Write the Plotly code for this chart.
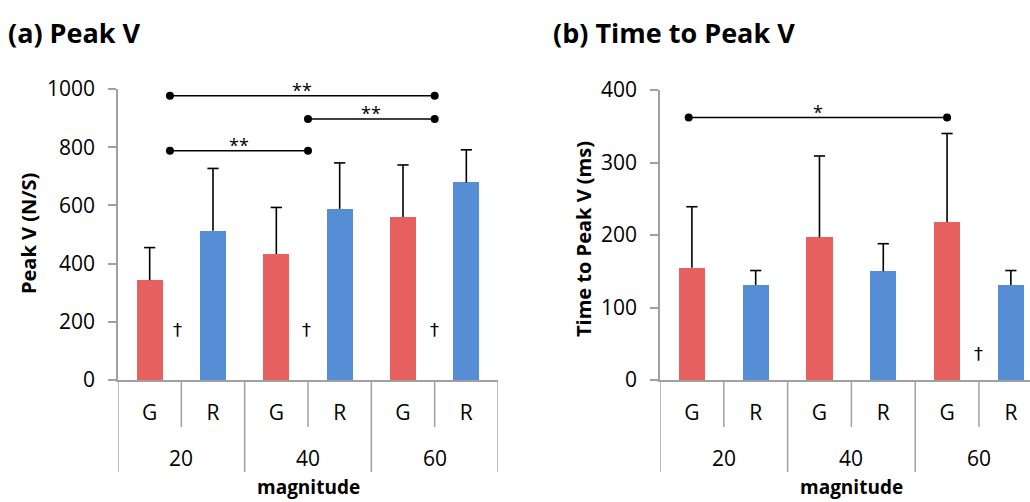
import plotly.graph_objects as go

# ---------------- data ----------------
groups = ["20", "40", "60"]
conditions = ["G", "R", "G", "R", "G", "R"]

peak_mean = [343, 513, 433, 588, 560, 679]
peak_sd = [112, 214, 160, 158, 179, 112]

time_mean = [155, 131, 197, 150, 218, 131]
time_sd = [84, 20, 112, 38, 122, 20]

# significance brackets: (from index, to index, y, label)
peak_sig = [(0.32, 4.5, 977, "**"), (2.5, 4.5, 897, "**"), (0.32, 2.5, 788, "**")]
time_sig = [(-0.05, 4.0, 362, "*")]

# dagger marks: (x index, y)
peak_dagger = [(0.44, 172), (2.48, 172), (4.49, 172)]
time_dagger = [(4.5, 37)]

RED = "#E66060"
BLUE = "#558ED5"
GRAY = "#A0A0A0"
FONT = "Open Sans"

bar_colors = [RED if c == "G" else BLUE for c in conditions]
xs = list(range(len(conditions)))

fig = go.Figure()


def add_panel(mean, sd, sig, dag, xa, ya):
    fig.add_trace(go.Bar(x=xs, y=mean, marker=dict(color=bar_colors, line=dict(width=0)),
                         width=0.41, xaxis=xa, yaxis=ya, showlegend=False))
    tops = [m + s for m, s in zip(mean, sd)]
    fig.add_trace(go.Scatter(
        x=xs, y=tops, mode="markers",
        marker=dict(symbol="line-ew", size=8, line=dict(width=1.6, color="black")),
        error_y=dict(type="data", symmetric=False, array=[0] * len(sd), arrayminus=sd,
                     width=0, thickness=1.6, color="black"),
        xaxis=xa, yaxis=ya, showlegend=False))
    for x0, x1, y, lab in sig:
        fig.add_trace(go.Scatter(x=[x0, x1], y=[y, y], mode="lines+markers",
                                 line=dict(color="black", width=1.6),
                                 marker=dict(color="black", size=8),
                                 xaxis=xa, yaxis=ya, showlegend=False))
        fig.add_annotation(x=(x0 + x1) / 2, y=y, xref=xa, yref=ya, text=lab,
                           showarrow=False, yanchor="middle", xanchor="center", yshift=6,
                           font=dict(family=FONT, size=18, color="black"))
    for x, y in dag:
        fig.add_annotation(x=x, y=y, xref=xa, yref=ya, text="†", showarrow=False,
                           yanchor="middle", xanchor="center",
                           font=dict(family="DejaVu Sans", size=18, color="black"))


add_panel(peak_mean, peak_sd, peak_sig, peak_dagger, "x", "y")
add_panel(time_mean, time_sd, time_sig, time_dagger, "x2", "y2")

W, H = 1030, 502
y_bot = 380
axis_common = dict(showgrid=False, zeroline=False, showline=True, linecolor=GRAY,
                   linewidth=1.5, automargin=False,
                   tickfont=dict(family=FONT, size=21, color="black"))

fig.update_layout(
    width=W, height=H, margin=dict(l=0, r=0, t=0, b=0, pad=0), autosize=False,
    paper_bgcolor="white", plot_bgcolor="white", bargap=0,
    xaxis=dict(domain=[118 / W, 498 / W], range=[-0.5, 5.5], anchor="y",
               tickvals=xs, ticktext=conditions, ticks="", ticklabelstandoff=13,
               **axis_common),
    yaxis=dict(domain=[(H - y_bot) / H, (H - 89) / H], range=[0, 1000], dtick=200,
               anchor="x", ticks="outside", ticklen=8, tickcolor=GRAY, tickwidth=1.5,
               ticklabelstandoff=9, **axis_common),
    xaxis2=dict(domain=[660 / W, 1.0], range=[-0.5, 5.3], anchor="y2",
                tickvals=xs, ticktext=conditions, ticks="", ticklabelstandoff=13,
                **axis_common),
    yaxis2=dict(domain=[(H - y_bot) / H, (H - 90) / H], range=[0, 400], dtick=100,
                anchor="x2", ticks="outside", ticklen=8, tickcolor=GRAY, tickwidth=1.5,
                ticklabelstandoff=9, **axis_common),
)

# category dividers and group labels
for xa, ncat in (("x", 6), ("x2", 6)):
    for k in range(ncat + 1):
        y1 = 472 if k % 2 == 0 else 427
        fig.add_shape(type="line", xref=xa, yref="paper", x0=k - 0.5, x1=k - 0.5,
                      y0=(H - y_bot) / H, y1=(H - y1) / H,
                      line=dict(color=GRAY, width=1.5))
    for i, g in enumerate(groups):
        fig.add_annotation(x=2 * i + 0.5, y=(H - 458) / H, xref=xa, yref="paper", text=g,
                           showarrow=False, yanchor="middle", xanchor="center",
                           font=dict(family=FONT, size=21, color="black"))
    fig.add_annotation(x=2.5, y=0, xref=xa, yref="paper", text="<b>magnitude</b>",
                       showarrow=False, yanchor="bottom", xanchor="center",
                       font=dict(family=FONT, size=19, color="black"))

# panel titles
fig.add_annotation(x=6 / W, y=(H - 32) / H, xref="paper", yref="paper", xanchor="left",
                   yanchor="middle", text="<b>(a) Peak V</b>", showarrow=False,
                   font=dict(family=FONT, size=27, color="black"))
fig.add_annotation(x=551 / W, y=(H - 32) / H, xref="paper", yref="paper", xanchor="left",
                   yanchor="middle", text="<b>(b) Time to Peak V</b>", showarrow=False,
                   font=dict(family=FONT, size=27, color="black"))

# y-axis titles
fig.add_annotation(x=28 / W, y=(H - 234) / H, xref="paper", yref="paper", textangle=-90,
                   xanchor="center", yanchor="middle",
                   text="<b>Peak V (N/S)</b>", showarrow=False,
                   font=dict(family=FONT, size=20, color="black"))
fig.add_annotation(x=583 / W, y=(H - 239) / H, xref="paper", yref="paper", textangle=-90,
                   xanchor="center", yanchor="middle",
                   text="<b>Time to Peak V (ms)</b>", showarrow=False,
                   font=dict(family=FONT, size=20, color="black"))

fig.write_html("out.html")
